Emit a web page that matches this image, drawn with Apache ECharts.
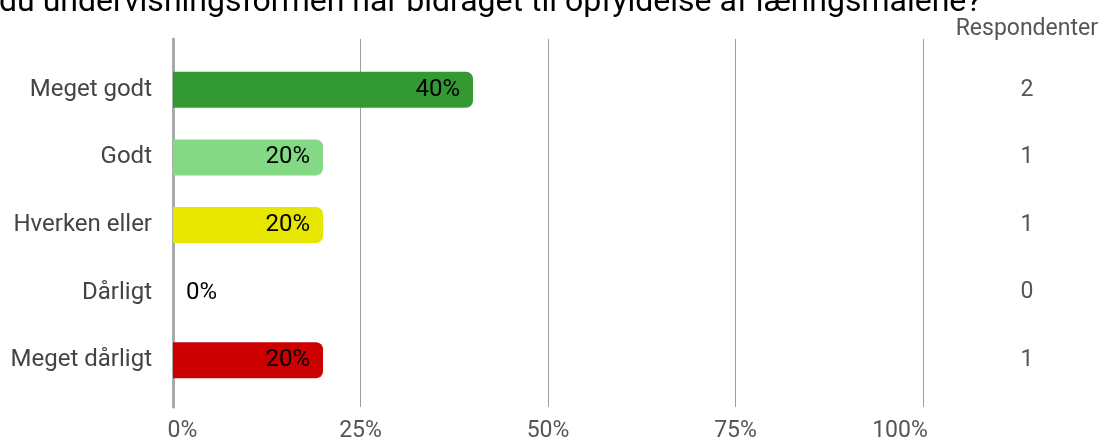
<!DOCTYPE html>
<html><head><meta charset="utf-8">
<script src="https://cdn.jsdelivr.net/npm/echarts@6/dist/echarts.min.js"></script>
<style>html,body{margin:0;padding:0;background:#fff}#c{width:1104px;height:443px}</style>
</head><body><div id="c"></div>
<script>
const categories = ['Meget godt', 'Godt', 'Hverken eller', 'Dårligt', 'Meget dårligt'];
const percentValues = [40, 20, 20, 0, 20];
const respondents = [2, 1, 1, 0, 1];
const barColors = ['#339a33', '#84d984', '#e6e600', '#999999', '#cc0000'];
const xTicks = [0, 25, 50, 75, 100];
const titleText = 'du undervisningsformen har bidraget til opfyldelse af læringsmålene?';

const FONT = 'Roboto';
const chart = echarts.init(document.getElementById('c'));
chart.setOption({
  animation: false,
  textStyle: { fontFamily: FONT },
  title: [
    { text: titleText, left: -6, top: -18, textStyle: { fontFamily: FONT, fontSize: 32, fontWeight: 'normal', color: '#000' } },
    { text: 'Respondenter', right: 1, top: 13, textStyle: { fontFamily: FONT, fontSize: 23, fontWeight: 'normal', color: '#555' } }
  ],
  grid: [
    { left: 173, right: 181, top: 56, height: 338 },
    { left: 173, right: 181, top: 39, height: 368 }
  ],
  xAxis: [
    { gridIndex: 0, type: 'value', min: 0, max: 100, show: false },
    { gridIndex: 1, type: 'value', min: xTicks[0], max: xTicks[xTicks.length - 1], interval: 25,
      axisLine: { show: false }, axisTick: { show: false },
      splitLine: { show: true, lineStyle: { color: '#9e9e9e', width: 1 } },
      axisLabel: {
        formatter: v => v === xTicks[0] ? '{first|' + v + '%}' : (v === xTicks[xTicks.length - 1] ? '{last|' + v + '%}' : v + '%'),
        fontSize: 23, color: '#555', margin: 13,
        rich: {
          first: { fontSize: 23, color: '#555', fontFamily: FONT, padding: [0, 0, 0, 19] },
          last: { fontSize: 23, color: '#555', fontFamily: FONT, padding: [0, 46, 0, 0] }
        } } }
  ],
  yAxis: [
    { gridIndex: 0, type: 'category', data: categories, inverse: true,
      axisLine: { show: false }, axisTick: { show: false }, splitLine: { show: false },
      axisLabel: { fontSize: 24, color: '#444', margin: 21 } },
    { gridIndex: 0, type: 'category', data: respondents.map(String), inverse: true, position: 'right',
      axisLine: { show: false }, axisTick: { show: false },
      axisLabel: { fontSize: 23, color: '#555', margin: 104, align: 'center' } },
    { gridIndex: 1, type: 'value', min: 0, max: 1, show: true,
      axisLine: { show: true, lineStyle: { color: '#aaaaaa', width: 3 } },
      axisTick: { show: false }, axisLabel: { show: false }, splitLine: { show: false } }
  ],
  series: [{
    type: 'bar', xAxisIndex: 0, yAxisIndex: 0, barWidth: 36,
    data: percentValues.map((v, i) => ({
      value: v,
      itemStyle: { color: barColors[i], borderRadius: [0, 7, 7, 0] },
      label: { show: true, position: v === 0 ? 'right' : 'insideRight', distance: 13,
        formatter: p => p.value + '%', fontSize: 24, color: '#000' }
    }))
  }]
});
</script></body></html>
